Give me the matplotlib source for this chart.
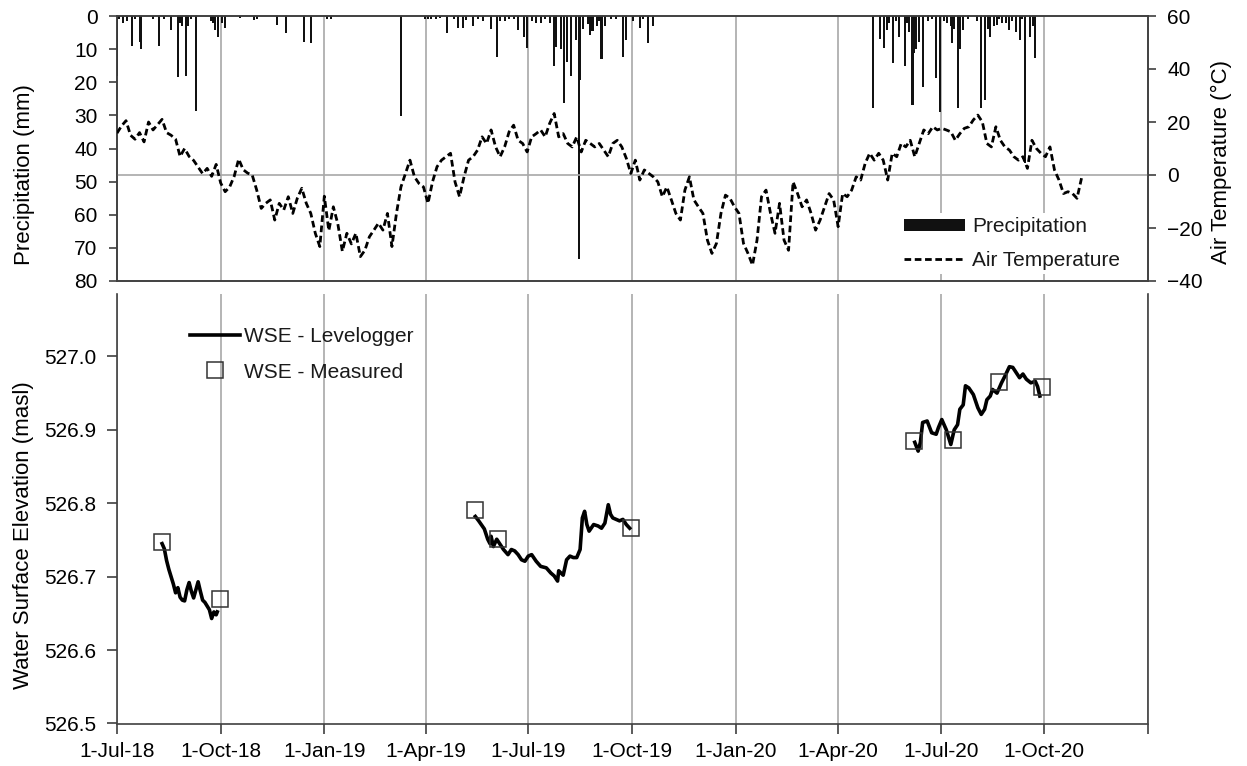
import pandas as pd
import matplotlib
matplotlib.use("Agg")
import matplotlib.pyplot as plt

plt.rcParams['font.family'] = ['Liberation Sans', 'DejaVu Sans']
plt.rcParams['text.color'] = '#1a1a1a'

# precipitation events (mm)
precip_dates = ['2018-07-01', '2018-07-03', '2018-07-06', '2018-07-10', '2018-07-14', '2018-07-17',
                '2018-07-21', '2018-07-22', '2018-08-02', '2018-08-07', '2018-08-12', '2018-08-18',
                '2018-08-24', '2018-08-26', '2018-08-28', '2018-08-31', '2018-09-02', '2018-09-05',
                '2018-09-09', '2018-09-22', '2018-09-24', '2018-09-26', '2018-09-29', '2018-10-02',
                '2018-10-05', '2018-10-18', '2018-10-31', '2018-11-02', '2018-11-20', '2018-11-28',
                '2018-12-14', '2018-12-20', '2019-01-03', '2019-01-07', '2019-03-10',
                '2019-03-31', '2019-04-03', '2019-04-06', '2019-04-10', '2019-04-14', '2019-04-20',
                '2019-04-26', '2019-04-30', '2019-05-04', '2019-05-07', '2019-05-13', '2019-05-17',
                '2019-05-22', '2019-05-29', '2019-06-03', '2019-06-06', '2019-06-10', '2019-06-14',
                '2019-06-18', '2019-06-22', '2019-06-27', '2019-06-30', '2019-07-04', '2019-07-08',
                '2019-07-12', '2019-07-16', '2019-07-20', '2019-07-24', '2019-07-26', '2019-07-30',
                '2019-08-02', '2019-08-04', '2019-08-08', '2019-08-12', '2019-08-15', '2019-08-16',
                '2019-08-19', '2019-08-23', '2019-08-25', '2019-08-27', '2019-08-31', '2019-09-02',
                '2019-09-04', '2019-09-07', '2019-09-12', '2019-09-17', '2019-09-23', '2019-09-26',
                '2019-10-02', '2019-10-08', '2019-10-11', '2019-10-15', '2019-10-20',
                '2020-05-02', '2020-05-08', '2020-05-12', '2020-05-14', '2020-05-16', '2020-05-20',
                '2020-05-22', '2020-05-25', '2020-05-30', '2020-06-01', '2020-06-03', '2020-06-06',
                '2020-06-07', '2020-06-09', '2020-06-12', '2020-06-15', '2020-06-20', '2020-06-23',
                '2020-06-27', '2020-06-30', '2020-07-04', '2020-07-07', '2020-07-10', '2020-07-11',
                '2020-07-13', '2020-07-16', '2020-07-18', '2020-07-21', '2020-07-25', '2020-08-02',
                '2020-08-06', '2020-08-09', '2020-08-12', '2020-08-14', '2020-08-17', '2020-08-20',
                '2020-08-22', '2020-08-24', '2020-08-28', '2020-08-31', '2020-09-02', '2020-09-06',
                '2020-09-09', '2020-09-11', '2020-09-14', '2020-09-18', '2020-09-21', '2020-09-23']
precip_mm = [18, 1, 2, 1.5, 9, 1,
             7.7, 10, 0.8, 9, 1, 4.3,
             18.3, 2, 3, 18, 3, 1,
             28.6, 1.5, 2, 4.3, 6.4, 2,
             3.6, 0.5, 1.2, 1, 2.7, 5,
             7.7, 8.2, 1, 1, 30.2,
             1, 0.8, 1, 0.8, 0.6, 5,
             1, 3.6, 3.6, 1.2, 3, 0.8,
             1.5, 4, 12.5, 1.5, 1.5, 1,
             1, 4.3, 6.4, 9.8, 1.5, 2,
             2, 1, 2, 15, 9.3, 10,
             26.2, 13.8, 18, 7.2, 73.4, 19.3,
             4, 2.5, 5.7, 4.5, 3, 1.5,
             13.1, 3, 1, 0.8, 12.3, 7.2,
             1.5, 3.6, 1, 8.2, 2.9,
             27.9, 7, 9.8, 4.3, 2, 14.3,
             1.5, 6.4, 15, 2, 4.8, 26.9,
             11.2, 10, 7.7, 21.5, 1.5, 1,
             18.8, 28.9, 1.5, 2, 3, 8.2,
             4, 27.9, 10, 4.3, 1, 1.5,
             27.9, 25.4, 4, 6.4, 3, 2.7,
             1, 2, 2, 4.3, 1.5, 4.8,
             7.2, 1, 44.5, 6.4, 3, 12.8]

# air temperature (deg C), one reading every 4 days from 1-Jul-18
temp_start = '2018-07-01'
air_temp = [15.8, 18.5, 20.5, 15, 13.5, 16, 12.5, 20, 17, 19,
            21, 16, 15, 13.5, 7, 10, 7, 5.5, 3, 0.5,
            2.5, -0.5, 4, -3, -6.3, -4.5, -0.5, 6, 2, 0.7,
            0, -5.7, -12.6, -10.7, -9.4, -17, -10.7, -13.2, -8.2, -14.5,
            -8.8, -5, -10.7, -14.5, -22, -27, -8, -21, -12, -18.5,
            -28.8, -22, -26, -22, -30.8, -28.4, -23.3, -20.8, -18.2, -20.8,
            -14.5, -27, -14.5, -4.5, 0.6, 5.6, -0.7, -3.2, -4.5, -10.7,
            -2.6, 3.1, 5.6, 6.9, 8.2, -2.6, -8.2, -0.7, 5.6, 6.9,
            9.4, 14.4, 11.9, 17, 10.6, 6.9, 10.6, 16.3, 18.8, 13.1,
            11.9, 8.7, 14.4, 15.6, 17, 14.4, 19.5, 23.2, 14.4, 15.6,
            11.9, 10.6, 14.4, 8.7, 13.1, 11.9, 10.6, 11.9, 9.4, 6.9,
            11.9, 13.1, 10.6, 6.3, 0.6, 5.6, -1.9, 1.9, 0.6, -0.7,
            -2.6, -8.2, -4.5, -9.4, -14.5, -17, -5.7, -0.7, -9.4, -12,
            -14.5, -24.6, -29.6, -25.8, -14.5, -7.6, -8.8, -12, -14.5, -25.8,
            -29.6, -34, -24.6, -8.2, -5.7, -14.5, -22, -10.7, -24.6, -28.4,
            -2.6, -7, -12, -9.4, -14.5, -20.8, -17, -12, -7, -9.4,
            -19.5, -7, -8.2, -5.7, -0.7, -1.9, 4.4, 8.2, 5.6, 8.2,
            5.6, -1.9, 8.2, 6.9, 11.9, 10.6, 13.1, 6.9, 11.9, 17,
            15.6, 18.2, 17, 17.6, 17, 16.3, 13.1, 15.6, 17.6, 18.2,
            20.8, 22.6, 20, 11.9, 10.6, 18.2, 13.1, 10.6, 9.4, 6.9,
            5.6, 6.9, 2.5, 13.1, 10, 8.2, 6.9, 10.6, 1.9, -1.9,
            -7, -6.3, -7, -8.8, -1.2]

# water surface elevation from the levelogger (masl)
wse18_dates = ['2018-08-10', '2018-08-12', '2018-08-14', '2018-08-16', '2018-08-18', '2018-08-20',
               '2018-08-22', '2018-08-24', '2018-08-26', '2018-08-28', '2018-08-30', '2018-09-01',
               '2018-09-03', '2018-09-05', '2018-09-07', '2018-09-09', '2018-09-11', '2018-09-13',
               '2018-09-15', '2018-09-17', '2018-09-19', '2018-09-21', '2018-09-23', '2018-09-25',
               '2018-09-27', '2018-09-28']
wse18 = [526.745, 526.738, 526.722, 526.71, 526.70, 526.69,
         526.678, 526.685, 526.672, 526.668, 526.667, 526.682,
         526.692, 526.68, 526.671, 526.682, 526.693, 526.68,
         526.668, 526.665, 526.66, 526.655, 526.643, 526.652,
         526.648, 526.652]
wse19_dates = ['2019-05-15', '2019-05-18', '2019-05-23', '2019-05-26', '2019-05-28', '2019-05-29',
               '2019-05-31', '2019-06-03', '2019-06-06', '2019-06-09', '2019-06-13', '2019-06-16',
               '2019-06-19', '2019-06-22', '2019-06-25', '2019-06-28', '2019-07-01', '2019-07-04',
               '2019-07-08', '2019-07-12', '2019-07-17', '2019-07-21', '2019-07-24', '2019-07-27',
               '2019-07-28', '2019-08-01', '2019-08-04', '2019-08-07', '2019-08-10', '2019-08-13',
               '2019-08-16', '2019-08-18', '2019-08-20', '2019-08-22', '2019-08-24', '2019-08-28',
               '2019-09-01', '2019-09-04', '2019-09-07', '2019-09-10', '2019-09-12', '2019-09-14',
               '2019-09-17', '2019-09-20', '2019-09-23', '2019-09-26', '2019-09-29']
wse19 = [526.782, 526.776, 526.765, 526.751, 526.745, 526.755,
         526.741, 526.751, 526.744, 526.737, 526.730, 526.737,
         526.735, 526.730, 526.723, 526.721, 526.728, 526.730,
         526.721, 526.714, 526.712, 526.705, 526.701, 526.694,
         526.708, 526.702, 526.723, 526.728, 526.726, 526.726,
         526.737, 526.780, 526.789, 526.771, 526.762, 526.771,
         526.769, 526.766, 526.773, 526.798, 526.785, 526.780,
         526.778, 526.776, 526.778, 526.771, 526.766]
wse20_dates = ['2020-06-08', '2020-06-11', '2020-06-13', '2020-06-15', '2020-06-19', '2020-06-23',
               '2020-06-27', '2020-06-29', '2020-07-02', '2020-07-06', '2020-07-10', '2020-07-13',
               '2020-07-16', '2020-07-18', '2020-07-21', '2020-07-23', '2020-07-26', '2020-07-30',
               '2020-08-03', '2020-08-06', '2020-08-09', '2020-08-11', '2020-08-14', '2020-08-16',
               '2020-08-20', '2020-08-24', '2020-08-27', '2020-08-31', '2020-09-03', '2020-09-06',
               '2020-09-09', '2020-09-12', '2020-09-15', '2020-09-19', '2020-09-23', '2020-09-25',
               '2020-09-27']
wse20 = [526.883, 526.871, 526.883, 526.910, 526.912, 526.896,
         526.894, 526.903, 526.914, 526.900, 526.880, 526.900,
         526.907, 526.928, 526.934, 526.960, 526.957, 526.948,
         526.930, 526.921, 526.928, 526.941, 526.946, 526.955,
         526.950, 526.964, 526.973, 526.986, 526.985, 526.978,
         526.971, 526.976, 526.969, 526.964, 526.966, 526.959,
         526.946]

# measured water surface elevation (masl)
meas_dates = ['2018-08-10', '2018-09-30', '2019-05-15', '2019-06-04', '2019-09-30',
              '2020-06-07', '2020-07-12', '2020-08-22', '2020-09-29']
meas_wse = [526.747, 526.669, 526.791, 526.751, 526.766,
            526.885, 526.886, 526.965, 526.959]

tick_dates = ['2018-07-01', '2018-10-01', '2019-01-01', '2019-04-01', '2019-07-01', '2019-10-01',
              '2020-01-01', '2020-04-01', '2020-07-01', '2020-10-01', '2021-01-01']
tick_labels = ['1-Jul-18', '1-Oct-18', '1-Jan-19', '1-Apr-19', '1-Jul-19', '1-Oct-19',
               '1-Jan-20', '1-Apr-20', '1-Jul-20', '1-Oct-20', '']

ticks = pd.to_datetime(tick_dates)
temp_dates = pd.date_range(temp_start, periods=len(air_temp), freq='4D')
grid_c = '#a8a8a8'
axis_c = '#404040'
fs = 15
lab_fs = 16

fig = plt.figure(figsize=(12.47, 7.66), dpi=100)
W, H = 1247, 766
ax1 = fig.add_axes([117 / W, 1 - 281 / H, 1031 / W, 265 / H])
ax3 = fig.add_axes([117 / W, 1 - 723.5 / H, 1031 / W, 429.5 / H])

# top panel: precipitation (inverted) + air temperature
ax1.bar(pd.to_datetime(precip_dates), precip_mm, width=1.8, color='#111111',
        label='Precipitation', zorder=3)
ax1.set_ylim(80, 0)
ax1.set_yticks(range(0, 81, 10))
ax1.set_xlim(ticks[0], ticks[-1])
ax1.set_xticks(ticks[1:-1])
ax1.tick_params(axis='x', length=0, labelbottom=False)
ax1.grid(axis='x', color=grid_c, lw=1.2, zorder=0)
ax1.set_ylabel('Precipitation (mm)', fontsize=lab_fs)
ax1.yaxis.set_label_coords(35 / W, 1 - 175 / H, transform=fig.transFigure)

ax2 = ax1.twinx()
ax2.axhline(0, color=grid_c, lw=1.2, zorder=1)
ax2.plot(temp_dates, air_temp, color='black', lw=2.0, ls=(0, (2.4, 1.3)),
         label='Air Temperature', zorder=3)
ax2.set_ylim(-40, 60)
ax2.set_yticks(range(-40, 61, 20))
ax2.set_ylabel('Air Temperature (°C)', fontsize=lab_fs)
ax2.yaxis.set_label_coords(1211 / W, 1 - 162 / H, transform=fig.transFigure)

h1, l1 = ax1.get_legend_handles_labels()
h2, l2 = ax2.get_legend_handles_labels()
ax2.legend(h1 + h2, l1 + l2, loc='upper left', bbox_to_anchor=(900 / W, 1 - 213 / H),
           bbox_transform=fig.transFigure, fontsize=fs, frameon=True, facecolor='white',
           edgecolor='none', framealpha=1, fancybox=False, borderpad=0.2, handlelength=2.9,
           handleheight=0.55, handletextpad=0.35, labelspacing=0.7, borderaxespad=0)

for ax in (ax1, ax2):
    for s in ax.spines.values():
        s.set_color(axis_c)
        s.set_linewidth(1.2)
    ax.tick_params(axis='y', labelsize=fs, length=6, width=1.2, color=axis_c, pad=8)

# bottom panel: water surface elevation
ax3.plot(pd.to_datetime(wse18_dates), wse18, color='black', lw=2.6, label='WSE - Levelogger', zorder=3)
ax3.plot(pd.to_datetime(wse19_dates), wse19, color='black', lw=2.6, zorder=3)
ax3.plot(pd.to_datetime(wse20_dates), wse20, color='black', lw=2.6, zorder=3)
ax3.plot(pd.to_datetime(meas_dates), meas_wse, ls='none', marker='s', ms=12, mfc='none',
         mec='#333333', mew=1.1, label='WSE - Measured', zorder=4)
ax3.set_xlim(ticks[0], ticks[-1])
ax3.set_xticks(ticks)
ax3.set_xticklabels(tick_labels)
ax3.set_ylim(526.5, 527.085)
ax3.set_yticks([526.5, 526.6, 526.7, 526.8, 526.9, 527.0])
ax3.set_yticklabels(['526.5', '526.6', '526.7', '526.8', '526.9', '527.0'])
ax3.grid(axis='x', color=grid_c, lw=1.2, zorder=0)
ax3.spines['top'].set_visible(False)
for s in ('left', 'bottom', 'right'):
    ax3.spines[s].set_color(axis_c)
    ax3.spines[s].set_linewidth(1.2)
ax3.tick_params(labelsize=fs, length=7, width=1.2, color=axis_c)
ax3.tick_params(axis='y', pad=8)
ax3.tick_params(axis='x', pad=6)
ax3.set_ylabel('Water Surface Elevation (masl)', fontsize=lab_fs)
ax3.yaxis.set_label_coords(34 / W, 1 - 535 / H, transform=fig.transFigure)
ax3.legend(loc='upper left', bbox_to_anchor=(190 / W, 1 - 327 / H), bbox_transform=fig.transFigure,
           fontsize=fs, frameon=False, borderpad=0, handlelength=2.4, handletextpad=0.2,
           labelspacing=0.8, borderaxespad=0)

fig.savefig('out.png', dpi=100)
